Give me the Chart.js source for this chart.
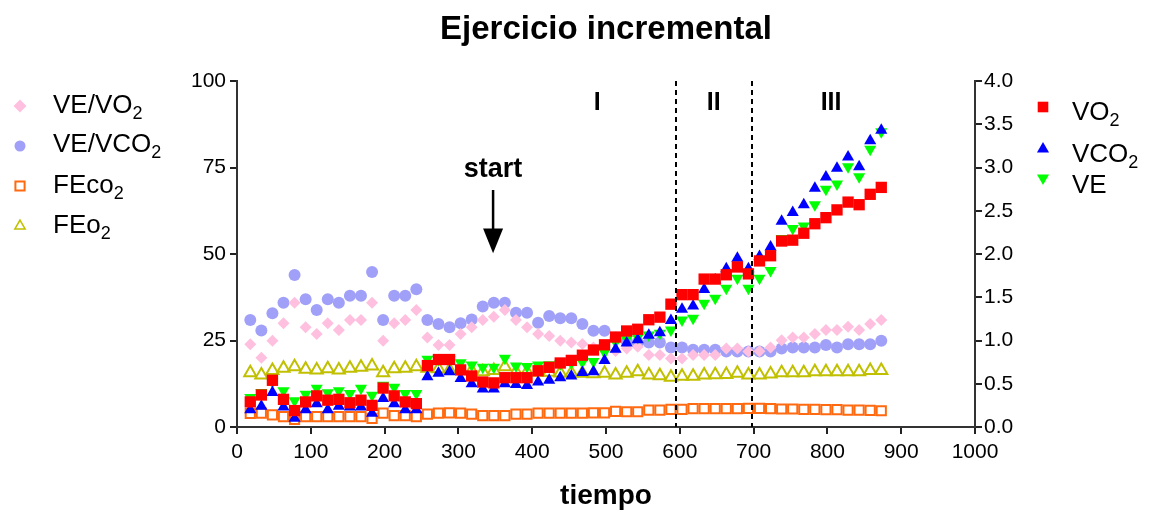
<!DOCTYPE html>
<html>
<head>
<meta charset="utf-8">
<script src="https://cdn.jsdelivr.net/npm/chart.js@4"></script>
<style>
  body { margin: 0; background: #fff; }
  #wrap { width: 1156px; height: 518px; }
</style>
</head>
<body>
<div id="wrap"><canvas id="ejercicio" width="1156" height="518"></canvas></div>
<script>
// tiempo (s)
const tiempo = [18, 33, 48, 63, 78, 93, 108, 123, 138, 153, 168, 183, 198, 213, 228, 243,
  258, 273, 288, 303, 318, 333, 348, 363, 378, 393, 408, 423, 438, 453, 468, 483, 498, 513,
  528, 543, 558, 573, 588, 603, 618, 633, 648, 663, 678, 693, 708, 723, 738, 753, 768, 783,
  798, 813, 828, 843, 858, 873];

// left axis series
const veVo2 = [23.9, 20.0, 24.9, 30.0, 35.9, 28.8, 26.9, 30.0, 28.0, 30.9, 30.9, 35.9, 24.9, 30.0, 30.9, 33.8,
  25.9, 23.7, 23.7, 26.9, 28.8, 30.9, 31.9, 33.8, 30.9, 28.8, 26.9, 26.3, 24.9, 24.4, 24.0, 23.0, 22.5, 22.0,
  22.7, 23.2, 20.8, 20.8, 19.8, 19.8, 20.8, 20.8, 20.8, 22.7, 22.7, 21.8, 21.9, 23.0, 25.1, 25.9, 25.9, 26.9,
  28.0, 28.0, 29.0, 28.0, 29.8, 30.9];
const veVco2 = [30.9, 27.9, 32.9, 35.9, 43.9, 36.9, 33.8, 36.9, 35.9, 37.9, 37.9, 44.8, 30.9, 37.9, 37.9, 39.8,
  30.9, 29.8, 28.8, 30.0, 31.1, 34.8, 35.9, 35.9, 33.0, 33.0, 30.1, 32.1, 31.4, 31.4, 29.8, 27.8, 27.8, 25.8,
  24.8, 24.4, 24.4, 24.4, 23.0, 23.0, 22.3, 22.3, 22.3, 21.8, 21.8, 21.8, 21.8, 21.8, 22.7, 23.0, 23.0, 23.0,
  23.7, 23.0, 23.9, 23.9, 23.9, 24.9];
const feCo2 = [3.9, 4.0, 3.5, 3.0, 2.2, 3.0, 3.0, 3.0, 3.0, 3.0, 3.0, 2.5, 4.0, 3.3, 3.3, 3.0,
  3.7, 4.0, 4.1, 4.0, 3.7, 3.3, 3.3, 3.3, 3.7, 3.7, 4.0, 4.0, 4.0, 4.0, 4.0, 4.1, 4.1, 4.5,
  4.4, 4.4, 4.9, 4.9, 5.1, 5.1, 5.3, 5.3, 5.3, 5.3, 5.3, 5.4, 5.4, 5.3, 5.2, 5.2, 5.1, 5.1,
  5.0, 5.0, 4.9, 4.9, 4.8, 4.7];
const feO2 = [15.7, 15.0, 16.3, 17.0, 17.4, 16.7, 16.5, 16.8, 16.5, 17.0, 17.3, 17.6, 15.7, 16.8, 17.0, 17.4,
  17.0, 16.8, 16.5, 16.3, 16.3, 16.0, 16.3, 17.4, 16.0, 16.0, 15.8, 15.8, 15.6, 15.6, 15.5, 15.4, 15.5, 15.0,
  15.5, 16.0, 15.0, 14.8, 14.4, 14.7, 14.7, 15.0, 15.1, 15.2, 15.5, 15.0, 15.0, 15.3, 15.7, 15.7, 15.7, 16.0,
  16.0, 16.0, 16.0, 16.0, 16.3, 16.3];
const ve = [8.5, 10.0, 13.0, 10.5, 7.6, 9.5, 11.2, 9.9, 10.5, 9.7, 11.2, 9.2, 12.1, 11.5, 9.7, 9.7,
  19.6, 19.6, 19.5, 18.6, 17.9, 17.3, 17.3, 19.9, 17.6, 17.5, 17.9, 18.0, 18.3, 18.5, 18.7, 18.9, 21.5, 24.5,
  25.3, 25.9, 26.6, 27.1, 28.0, 30.9, 31.4, 35.8, 37.2, 40.1, 43.0, 40.1, 43.0, 45.2, 54.5, 57.4, 58.1, 64.2,
  68.7, 70.2, 75.2, 72.3, 80.3, 85.3];

// right axis series (L/min)
const vo2 = [0.29, 0.37, 0.54, 0.32, 0.19, 0.29, 0.36, 0.31, 0.32, 0.28, 0.31, 0.25, 0.45, 0.36, 0.29, 0.27,
  0.71, 0.78, 0.78, 0.66, 0.59, 0.52, 0.51, 0.57, 0.57, 0.57, 0.65, 0.69, 0.74, 0.77, 0.83, 0.89, 0.95, 1.04,
  1.11, 1.13, 1.24, 1.27, 1.42, 1.53, 1.53, 1.71, 1.71, 1.76, 1.85, 1.77, 1.92, 1.98, 2.15, 2.16, 2.24, 2.35,
  2.42, 2.51, 2.60, 2.57, 2.69, 2.77];
const vco2 = [0.20, 0.24, 0.40, 0.23, 0.10, 0.20, 0.27, 0.20, 0.24, 0.23, 0.23, 0.16, 0.33, 0.27, 0.20, 0.20,
  0.58, 0.62, 0.64, 0.56, 0.50, 0.44, 0.44, 0.50, 0.49, 0.48, 0.52, 0.54, 0.57, 0.59, 0.63, 0.64, 0.77, 0.90,
  0.97, 1.01, 1.06, 1.09, 1.23, 1.36, 1.40, 1.59, 1.70, 1.83, 1.95, 1.83, 1.97, 2.08, 2.38, 2.48, 2.57, 2.76,
  2.89, 2.99, 3.12, 3.01, 3.31, 3.43];

// phase markers and labels
const phaseLines = [595, 698];
const phaseLabels = ['I', 'II', 'III'];
const phaseLabelX = [488, 646, 805];
const startX = 347;

const FONT = "'Liberation Sans', Arial, sans-serif";
Chart.defaults.font.family = FONT;
Chart.defaults.color = '#000';

const pts = arr => tiempo.map((t, i) => ({ x: t, y: arr[i] }));

function drawMarker(ctx, style, x, y, r, fill, stroke, lw, rot) {
  ctx.save();
  ctx.translate(x, y);
  if (rot) ctx.rotate(rot * Math.PI / 180);
  ctx.beginPath();
  if (style === 'circle') {
    ctx.arc(0, 0, r, 0, Math.PI * 2);
  } else if (style === 'rect') {
    const s = r * Math.SQRT1_2;
    ctx.rect(-s, -s, 2 * s, 2 * s);
  } else if (style === 'rectRot') {
    ctx.moveTo(0, -r); ctx.lineTo(r, 0); ctx.lineTo(0, r); ctx.lineTo(-r, 0); ctx.closePath();
  } else if (style === 'triangle') {
    const h = r * Math.sqrt(3) / 2;
    ctx.moveTo(0, -r); ctx.lineTo(h, r / 2); ctx.lineTo(-h, r / 2); ctx.closePath();
  }
  ctx.fillStyle = fill;
  ctx.fill();
  if (lw) { ctx.lineWidth = lw; ctx.strokeStyle = stroke; ctx.stroke(); }
  ctx.restore();
}

// text with subscripts: parts = [[text, isSub], ...]
function drawSubText(ctx, parts, x, y, size) {
  let cx = x;
  parts.forEach(([txt, sub]) => {
    ctx.font = (sub ? Math.round(size * 0.7) : size) + 'px ' + FONT;
    ctx.fillText(txt, cx, sub ? y + 6 : y);
    cx += ctx.measureText(txt).width;
  });
}

const leftLegend = [
  { parts: [['VE/VO', 0], ['2', 1]], style: 'rectRot', fill: '#ffc0e0', stroke: null, lw: 0, r: 6.5, mx: 20, my: 106, ty: 113 },
  { parts: [['VE/VCO', 0], ['2', 1]], style: 'circle', fill: '#a0a0f8', stroke: null, lw: 0, r: 5.5, mx: 20, my: 146, ty: 152 },
  { parts: [['FEco', 0], ['2', 1]], style: 'rect', fill: '#fff', stroke: '#ff6a10', lw: 2, r: 6.5, mx: 20, my: 186, ty: 193 },
  { parts: [['FEo', 0], ['2', 1]], style: 'triangle', fill: '#fff', stroke: '#c0c000', lw: 1.5, r: 6, mx: 20, my: 226, ty: 233 }
];
const rightLegend = [
  { parts: [['VO', 0], ['2', 1]], style: 'rect', fill: '#ff0000', r: 7.5, mx: 1043, my: 107, ty: 120, rot: 0 },
  { parts: [['VCO', 0], ['2', 1]], style: 'triangle', fill: '#0000ff', r: 7, mx: 1043, my: 149, ty: 162, rot: 0 },
  { parts: [['VE', 0]], style: 'triangle', fill: '#00ff00', r: 7, mx: 1043, my: 178, ty: 193, rot: 180 }
];

const decor = {
  id: 'decor',
  afterDatasetsDraw(chart) {
    const { ctx, chartArea: a, scales } = chart;
    const xs = scales.x, yl = scales.y;
    ctx.save();
    // phase dashed lines
    ctx.strokeStyle = '#000';
    ctx.lineWidth = 2;
    ctx.setLineDash([5, 4]);
    phaseLines.forEach(t => {
      const px = Math.round(xs.getPixelForValue(t));
      ctx.beginPath(); ctx.moveTo(px, a.top); ctx.lineTo(px, a.bottom); ctx.stroke();
    });
    ctx.setLineDash([]);
    // phase labels
    ctx.font = 'bold 25px ' + FONT;
    ctx.textAlign = 'center';
    ctx.textBaseline = 'alphabetic';
    ctx.fillStyle = '#000';
    phaseLabels.forEach((l, i) => ctx.fillText(l, xs.getPixelForValue(phaseLabelX[i]), yl.getPixelForValue(91.5)));
    // start arrow
    const sx = xs.getPixelForValue(startX);
    ctx.font = 'bold 27px ' + FONT;
    ctx.fillText('start', sx, yl.getPixelForValue(72.3));
    ctx.lineWidth = 2.5;
    ctx.beginPath(); ctx.moveTo(sx, yl.getPixelForValue(68.5)); ctx.lineTo(sx, yl.getPixelForValue(57)); ctx.stroke();
    const hb = yl.getPixelForValue(57.4), tip = yl.getPixelForValue(50.2);
    ctx.beginPath(); ctx.moveTo(sx - 10, hb); ctx.lineTo(sx + 10, hb); ctx.lineTo(sx, tip); ctx.closePath(); ctx.fill();
    ctx.restore();
  },
  afterDraw(chart) {
    const { ctx, chartArea: a } = chart;
    ctx.save();
    ctx.fillStyle = '#000';
    ctx.textBaseline = 'alphabetic';
    ctx.textAlign = 'center';
    ctx.font = 'bold 33px ' + FONT;
    ctx.fillText('Ejercicio incremental', (a.left + a.right) / 2, 39);
    ctx.font = 'bold 28px ' + FONT;
    ctx.fillText('tiempo', (a.left + a.right) / 2, 504);
    ctx.textAlign = 'left';
    leftLegend.forEach(it => {
      drawMarker(ctx, it.style, it.mx, it.my, it.r, it.fill, it.stroke, it.lw, 0);
      drawSubText(ctx, it.parts, 53, it.ty, 26);
    });
    rightLegend.forEach(it => {
      drawMarker(ctx, it.style, it.mx, it.my, it.r, it.fill, null, 0, it.rot);
      drawSubText(ctx, it.parts, 1072, it.ty, 26);
    });
    ctx.restore();
  }
};

const axisGrid = { drawOnChartArea: false, drawTicks: true, tickLength: 7, color: '#222', lineWidth: 2 };
const axisBorder = { color: '#333', width: 2 };

new Chart(document.getElementById('ejercicio'), {
  type: 'scatter',
  data: {
    datasets: [
      { label: 'VO2', data: pts(vo2), yAxisID: 'y2', pointStyle: 'rect', pointRadius: 8,
        backgroundColor: '#ff0000', borderWidth: 0, order: 0 },
      { label: 'VCO2', data: pts(vco2), yAxisID: 'y2', pointStyle: 'triangle', pointRadius: 7,
        backgroundColor: '#0000ff', borderWidth: 0, order: 1 },
      { label: 'VE', data: pts(ve), yAxisID: 'y', pointStyle: 'triangle', pointRotation: 180, pointRadius: 7,
        backgroundColor: '#00ff00', borderWidth: 0, order: 2 },
      { label: 'FEco2', data: pts(feCo2), yAxisID: 'y', pointStyle: 'rect', pointRadius: 6.5,
        backgroundColor: '#fff', borderColor: '#ff6a10', borderWidth: 2, order: 3 },
      { label: 'FEo2', data: pts(feO2), yAxisID: 'y', pointStyle: 'triangle', pointRadius: 7,
        backgroundColor: '#fff', borderColor: '#c0c000', borderWidth: 2, order: 4 },
      { label: 'VE/VO2', data: pts(veVo2), yAxisID: 'y', pointStyle: 'rectRot', pointRadius: 6,
        backgroundColor: '#ffc0e0', borderWidth: 0, order: 5 },
      { label: 'VE/VCO2', data: pts(veVco2), yAxisID: 'y', pointStyle: 'circle', pointRadius: 6,
        backgroundColor: '#a0a0f8', borderWidth: 0, order: 6 }
    ]
  },
  options: {
    responsive: false,
    animation: false,
    events: [],
    layout: { padding: { top: 81, left: 0, right: 0, bottom: 0 } },
    plugins: { legend: { display: false }, tooltip: { enabled: false } },
    scales: {
      x: {
        type: 'linear', min: 0, max: 1000,
        ticks: { stepSize: 100, font: { size: 21 }, padding: 6, maxRotation: 0, callback: v => String(v) },
        grid: axisGrid, border: axisBorder,
        afterFit: s => { s.height = 91; }
      },
      y: {
        position: 'left', min: 0, max: 100,
        ticks: { stepSize: 25, font: { size: 21 }, padding: 4 },
        grid: axisGrid, border: axisBorder,
        afterFit: s => { s.width = 237; }
      },
      y2: {
        position: 'right', min: 0, max: 4,
        ticks: { stepSize: 0.5, font: { size: 21 }, padding: 2, callback: v => v.toFixed(1) },
        grid: axisGrid, border: axisBorder,
        afterFit: s => { s.width = 181; }
      }
    }
  },
  plugins: [decor]
});
</script>
</body>
</html>
